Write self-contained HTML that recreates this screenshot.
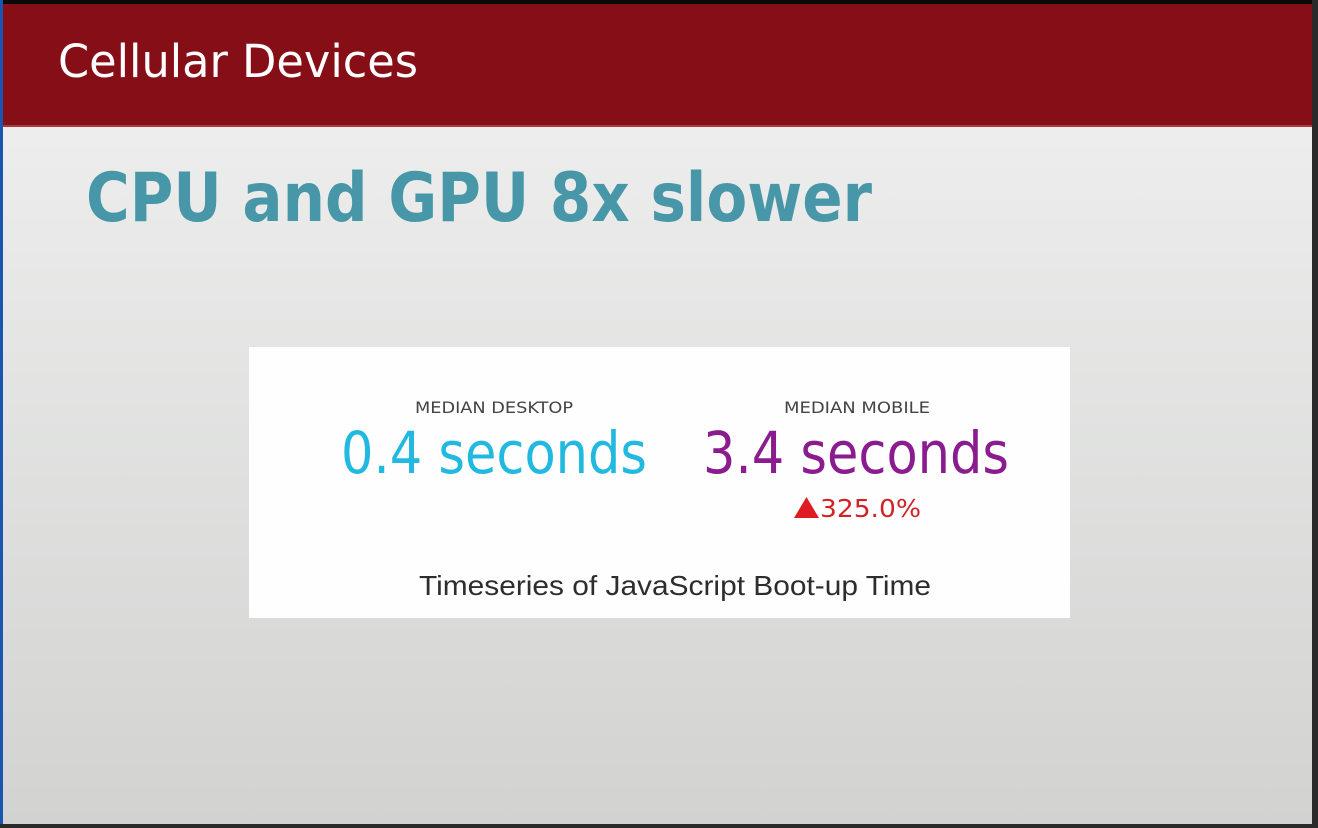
<!DOCTYPE html>
<html><head><meta charset="utf-8"><style>
html,body{margin:0;padding:0;width:1318px;height:828px;overflow:hidden;background:#111}
svg{display:block}
</style></head><body>
<svg width="1318" height="828" viewBox="0 0 1318 828" xmlns="http://www.w3.org/2000/svg">
<defs>
<linearGradient id="bg" x1="0" y1="0" x2="0" y2="1">
<stop offset="0" stop-color="#f1f2f1"/>
<stop offset="1" stop-color="#d2d3d1"/>
</linearGradient>
</defs>
<rect x="0" y="0" width="1318" height="828" fill="#0a0a0a"/>
<rect x="0" y="0" width="3" height="828" fill="#1a55b0"/>
<rect x="3" y="4" width="1309" height="820" fill="url(#bg)"/>
<rect x="3" y="4" width="1309" height="122" fill="#860f17"/>
<rect x="3" y="125" width="1309" height="2" fill="#a83a40"/>
<rect x="1312" y="0" width="6" height="828" fill="#2a2a2a"/>
<text x="58" y="77" font-family="DejaVu Sans, sans-serif" font-size="45" fill="#fff" textLength="360" lengthAdjust="spacingAndGlyphs">Cellular Devices</text>
<text x="86" y="221" font-family="DejaVu Sans, sans-serif" font-weight="bold" font-size="68" fill="#4797a9" textLength="786" lengthAdjust="spacingAndGlyphs">CPU and GPU 8x slower</text>
<rect x="249" y="347" width="821" height="271" fill="#fefefe"/>
<text x="415" y="413" font-family="DejaVu Sans, sans-serif" font-size="16" fill="#444" textLength="158" lengthAdjust="spacingAndGlyphs">MEDIAN DESKTOP</text>
<text x="784" y="413" font-family="DejaVu Sans, sans-serif" font-size="16" fill="#444" textLength="146" lengthAdjust="spacingAndGlyphs">MEDIAN MOBILE</text>
<text x="341" y="473" font-family="DejaVu Sans, sans-serif" font-size="58" fill="#22b9e0" textLength="306" lengthAdjust="spacingAndGlyphs">0.4 seconds</text>
<text x="703" y="473" font-family="DejaVu Sans, sans-serif" font-size="58" fill="#8b1c8f" textLength="306" lengthAdjust="spacingAndGlyphs">3.4 seconds</text>
<polygon points="794,518 819,518 806.5,497" fill="#e01b22"/>
<text x="820" y="517" font-family="DejaVu Sans, sans-serif" font-size="25" fill="#d32226" textLength="101" lengthAdjust="spacingAndGlyphs">325.0%</text>
<text x="419" y="595" font-family="Liberation Sans, sans-serif" font-size="28" fill="#2d2d2d" textLength="512" lengthAdjust="spacingAndGlyphs">Timeseries of JavaScript Boot-up Time</text>
<rect x="0" y="824" width="1318" height="4" fill="#2a2a2a"/>
</svg>
</body></html>
